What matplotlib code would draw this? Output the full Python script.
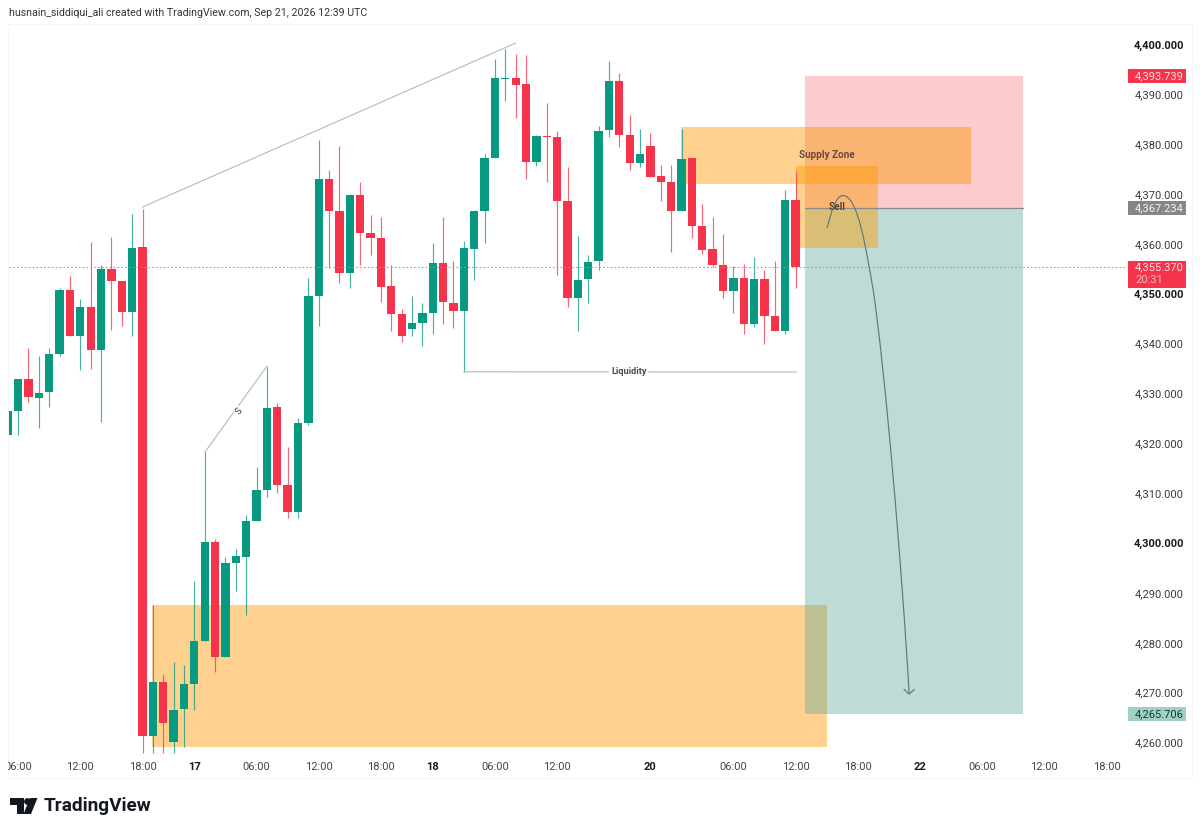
import matplotlib
matplotlib.use("Agg")
import matplotlib.pyplot as plt
from matplotlib.patches import Rectangle, PathPatch, Polygon, Circle
from matplotlib.path import Path

plt.rcParams['font.family'] = ['Roboto', 'DejaVu Sans']

# ---- data (index = hourly candle number on the time axis) ----
opens = [4321.7,4326.4,4332.9,4329.1,4330.3,4338.0,4350.7,4341.6,4347.3,4338.7,4354.9,4352.6,4346.4,4359.4,
         4261.3,4272.1,4260.1,4266.7,4271.8,4280.3,4300.3,4277.2,4295.9,4297.2,4304.4,4310.7,4327.2,4311.6,
         4306.3,4324.0,4349.6,4373.1,4366.7,4354.1,4369.8,4362.2,4361.2,4351.5,4346.0,4343.0,4344.2,4346.2,
         4356.1,4348.2,4346.6,4358.9,4366.7,4377.2,4393.1,4393.2,4392.0,4376.4,4381.6,4381.4,4368.7,4349.2,
         4352.9,4356.5,4382.8,4392.7,4381.8,4376.3,4379.6,4373.6,4372.5,4366.6,4377.3,4363.6,4358.9,4355.7,
         4350.6,4353.1,4344.0,4353.0,4345.5,4342.6,4368.8]
highs = [4326.4,4333.0,4339.2,4337.5,4339.2,4351.1,4353.6,4348.9,4360.4,4355.7,4361.3,4352.6,4366.0,4367.1,
         4287.5,4273.7,4276.2,4275.6,4292.4,4318.2,4300.9,4297.2,4298.9,4305.6,4315.3,4335.3,4328.1,4319.3,
         4325.0,4353.1,4380.8,4374.9,4379.7,4370.0,4372.5,4365.8,4365.4,4355.7,4346.9,4349.5,4348.1,4360.1,
         4365.4,4356.6,4360.6,4366.8,4378.1,4397.0,4399.2,4398.1,4397.9,4381.8,4388.3,4382.7,4375.5,4361.6,
         4357.7,4383.6,4396.7,4394.2,4385.8,4383.1,4382.2,4375.9,4375.8,4383.0,4377.3,4368.0,4365.4,4361.9,
         4355.6,4355.9,4357.4,4354.7,4356.6,4370.9,4374.7]
lows = [4321.7,4321.7,4328.3,4323.0,4327.3,4337.5,4341.6,4334.7,4334.9,4324.2,4342.7,4343.6,4341.6,4257.8,
        4257.8,4257.8,4257.8,4259.0,4266.6,4280.3,4274.2,4277.2,4290.4,4285.5,4304.4,4309.3,4310.1,4305.1,
        4305.1,4323.6,4343.5,4355.1,4352.2,4351.2,4355.7,4357.7,4348.4,4342.6,4340.4,4341.6,4339.6,4341.9,
        4344.0,4343.1,4334.3,4352.7,4360.1,4377.2,4388.7,4385.2,4373.1,4375.6,4372.5,4353.7,4347.4,4342.6,
        4348.1,4354.7,4381.4,4379.5,4374.8,4375.5,4373.5,4368.6,4358.3,4366.6,4361.1,4357.9,4355.3,4349.1,
        4346.1,4341.9,4343.4,4339.9,4342.6,4341.9,4351.2]
closes = [4326.4,4333.0,4329.2,4330.1,4338.0,4350.8,4341.6,4347.4,4338.7,4354.9,4352.5,4346.4,4359.2,4261.3,
          4272.1,4263.8,4266.6,4271.8,4280.3,4300.3,4277.2,4295.9,4297.4,4304.4,4310.7,4327.1,4311.6,4306.3,
          4324.0,4349.6,4373.1,4366.6,4354.1,4369.8,4362.2,4361.2,4351.3,4345.9,4341.6,4344.2,4346.2,4356.1,
          4348.3,4346.6,4359.1,4366.6,4377.2,4393.2,4393.2,4391.9,4376.4,4381.6,4381.4,4368.6,4349.2,4352.7,
          4356.4,4382.7,4392.7,4381.8,4376.3,4378.1,4373.5,4372.5,4366.6,4377.1,4363.6,4358.7,4355.7,4350.6,
          4353.1,4344.0,4353.0,4345.5,4342.6,4368.8,4355.37]

price_ticks = [4400,4390,4380,4370,4360,4350,4340,4330,4320,4310,4300,4290,4280,4270,4260]
bold_prices = [4400,4350,4300]
time_pos = [1,7,13,18,24,30,36,41,47,53,62,70,76,82,88,94,100,106]
time_labels = ['06:00','12:00','18:00','17','06:00','12:00','18:00','18','06:00','12:00','20',
               '06:00','12:00','18:00','22','06:00','12:00','18:00']
day_labels = ['17','18','20','22']

entry_price = 4367.234
stop_price = 4393.739
target_price = 4265.706
last_price = 4355.37
countdown = '20:31'

demand_zone = (13.96, 79.0, 4259.1, 4287.5)
supply_zone = (64.95, 92.95, 4372.0, 4383.55)
small_zone = (76.05, 84.0, 4359.2, 4375.7)
position_x = (76.95, 97.9)

trend_x, trend_y = [13, 49], [4367.4, 4400.3]
s_x, s_y = [19.03, 25.01], [4318.25, 4335.5]
liq_x, liq_y = [44, 76.05], [4334.36, 4334.3]
curve_x = [79.04,79.43,79.91,80.59,82.04,82.81,83.49,84.64,86.28,86.96]
curve_y = [4363.19,4366.40,4369.81,4369.71,4369.61,4358.78,4350.76,4334.71,4294.59,4269.71]

RED = '#f5334a'
GREEN = '#089981'
ORANGE = '#ff9800'

W, H = 1200, 833
fig = plt.figure(figsize=(12, 8.33), dpi=100, facecolor='white')

# page overlay in pixel units
bg = fig.add_axes([0, 0, 1, 1], zorder=0)
bg.set_xlim(0, W); bg.set_ylim(H, 0); bg.axis('off')
bg.add_patch(Rectangle((8, 24), 1184, 754, fc='#ffffff', ec='#f6f6f6', lw=0.8))

AX_L, AX_R, AX_T, AX_B = 9, 1120, 24, 755
ax = fig.add_axes([AX_L/W, 1-AX_B/H, (AX_R-AX_L)/W, (AX_B-AX_T)/H], zorder=1)
ax.patch.set_alpha(0)
ax.set_xlim(0.12, 107.3)
ax.set_ylim(4257.48, 4404.12)
for s in ax.spines.values():
    s.set_visible(False)


def zone(x0, x1, y0, y1, color, alpha):
    ax.add_patch(Rectangle((x0, y0), x1-x0, y1-y0, fc=color, ec='none',
                           alpha=alpha, zorder=1))


zone(*demand_zone, ORANGE, 0.44)
zone(position_x[0], position_x[1], entry_price, stop_price, '#f23645', 0.26)
zone(position_x[0], position_x[1], target_price, entry_price, '#5da598', 0.4)
zone(*supply_zone, ORANGE, 0.44)
zone(*small_zone, ORANGE, 0.44)

# candles
idx = list(range(len(opens)))
cols = [GREEN if c >= o else RED for o, c in zip(opens, closes)]
ax.vlines(idx, lows, highs, colors=cols, lw=0.85, alpha=0.75, zorder=3)
ax.bar(idx, [max(abs(c-o), 0.15) for o, c in zip(opens, closes)],
       bottom=[min(o, c) for o, c in zip(opens, closes)],
       width=0.8, color=cols, lw=0, zorder=4)

# drawings
LINE = '#b8b8b8'
ax.plot(trend_x, trend_y, color=LINE, lw=0.8, zorder=5)
ax.plot(s_x, s_y, color=LINE, lw=0.8, zorder=5)
ax.plot(liq_x, liq_y, color=LINE, lw=0.8, zorder=5)
ax.plot(position_x, [entry_price]*2, color='#8a8a8a', lw=0.9, zorder=5)
ax.plot([0.12, 107.8], [last_price]*2, color='#c9858c', lw=0.75, ls=(0, (1.5, 2.2)), zorder=5, clip_on=False)

ax.text((s_x[0]+s_x[1])/2, (s_y[0]+s_y[1])/2, 'S', fontsize=6.5, rotation=-126, ha='center', va='center',
        color='#333333', zorder=6, bbox=dict(fc='white', ec='none', pad=0.8))
ax.text(59.9, 4334.35, 'Liquidity', fontsize=6.6, fontweight='bold', ha='center', va='center',
        color='#4a4a4a', zorder=6, bbox=dict(fc='white', ec='none', pad=1.2))
ax.text(78.98, 4377.8, 'Supply Zone', fontsize=7.2, fontweight='bold', ha='center', va='center',
        color='#6a4a40', zorder=6)
ax.text(80, 4367.4, 'Sell', fontsize=7.2, fontweight='bold', ha='center', va='center',
        color='#4f4638', zorder=6)

codes = [Path.MOVETO] + [Path.CURVE4]*9
ax.add_patch(PathPatch(Path(list(zip(curve_x, curve_y)), codes), fc='none', ec='#5f7a76', lw=0.85, zorder=6))
ax.plot([curve_x[-1]-0.48, curve_x[-1], curve_x[-1]+0.48],
        [curve_y[-1]+0.9, curve_y[-1], curve_y[-1]+0.9], color='#5f7a76', lw=0.85, zorder=6)

# axes
ax.yaxis.tick_right()
ax.set_yticks(price_ticks)
ax.set_yticklabels([f'{p:,.3f}' for p in price_ticks])
ax.tick_params(axis='y', length=0, pad=(1184-AX_R)*0.72, labelsize=8, labelcolor='#3a3a3a')
for lab, p in zip(ax.get_yticklabels(), price_ticks):
    lab.set_ha('right')
    if p in bold_prices:
        lab.set_fontweight('bold')
        lab.set_color('#1a1a1a')

ax.set_xticks(time_pos)
ax.set_xticklabels(time_labels)
ax.tick_params(axis='x', length=0, pad=5.2, labelsize=8, labelcolor='#444444')
clip_rect = Rectangle((8, 0), W, H, transform=bg.transData)
for lab in ax.get_xticklabels():
    lab.set_clip_path(clip_rect)
    if lab.get_text() in day_labels:
        lab.set_fontweight('bold')
        lab.set_color('#1a1a1a')

# price badges
ytr = ax.get_yaxis_transform()
BX0 = (1128-AX_L)/(AX_R-AX_L)
BX1 = (1186-AX_L)/(AX_R-AX_L)
TX = (1135-AX_L)/(AX_R-AX_L)


def badge(y0, y1, color):
    ax.add_patch(Rectangle((BX0, y0), BX1-BX0, y1-y0, transform=ytr, fc=color, ec='none',
                           clip_on=False, zorder=7))


def badge_text(y, s, color):
    ax.text(TX, y, s, transform=ytr, fontsize=8, color=color, ha='left', va='center',
            clip_on=False, zorder=8)


badge(stop_price-1.45, stop_price+1.45, '#f5334a')
badge_text(stop_price, f'{stop_price:,.3f}', '#ffe3e6')
badge(entry_price-1.45, entry_price+1.45, '#868686')
badge_text(entry_price, f'{entry_price:,.3f}', '#f4f4f4')
badge(last_price-4.25, last_price+1.3, '#f5334a')
badge_text(last_price, f'{last_price:,.3f}', '#ffe3e6')
badge_text(last_price-2.6, countdown, '#fbb8c0')
badge(target_price-1.5, target_price+1.5, '#9fcfc5')
badge_text(target_price, f'{target_price:,.3f}', '#123c36')

# header and footer
bg.text(9, 13, 'husnain_siddiqui_ali created with TradingView.com, Sep 21, 2026 12:39 UTC',
        fontsize=7.65, color='#333333', ha='left', va='center')
bg.add_patch(Polygon([(10, 798), (24, 798), (24, 814), (17, 814), (17, 805), (10, 805)], fc='#131722', ec='none'))
bg.add_patch(Circle((27.5, 801.5), 3.4, fc='#131722', ec='none'))
bg.add_patch(Polygon([(30, 798), (37.5, 798), (31, 814), (23.5, 814)], fc='#131722', ec='none'))
bg.text(44, 806, 'TradingView', fontsize=13.7, fontweight='bold', color='#131722', ha='left', va='center')

fig.savefig('out.png', dpi=100)
